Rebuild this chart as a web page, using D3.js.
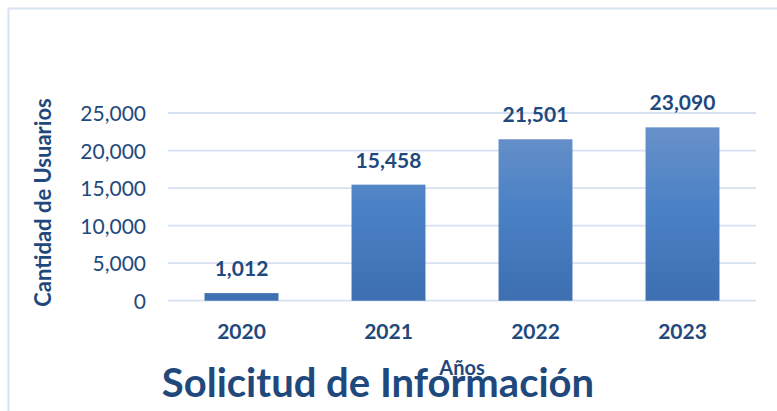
<!DOCTYPE html>
<html><head><meta charset="utf-8">
<script src="https://cdn.jsdelivr.net/npm/d3@7"></script>
<style>body{margin:0;background:#fff}svg{display:block}</style>
</head><body>
<script>
const categories = ["2020","2021","2022","2023"];
const values = [1012, 15458, 21501, 23090];
const yTicks = [0,5000,10000,15000,20000,25000];
const title = "Solicitud de Información";
const xTitle = "Años";
const yTitle = "Cantidad de Usuarios";

(function(){
const W = 777, H = 411;
const textColor = "#1f497d";
const FONT = "Lato";
const svg = d3.select("body").append("svg").attr("width", W).attr("height", H);

const defs = svg.append("defs");
const g = defs.append("linearGradient").attr("id","barGrad").attr("gradientUnits","userSpaceOnUse");
// border
svg.append("path").attr("d", `M8.5,${H} V8.5 H${W}`).attr("fill","none").attr("stroke","#d9e4f3").attr("stroke-width",2);

const pLeft = 168, pRight = 756, pTop = 113, pBottom = 300.7;
const x = d3.scaleBand().domain(categories).range([pLeft, pRight]).paddingInner(0.497).paddingOuter(0.2485);
const y = d3.scaleLinear().domain([0, 25000]).range([pBottom, pTop]);

g.attr("x1",0).attr("x2",0).attr("y1", y(25000)).attr("y2", y(0));
g.append("stop").attr("offset","0%").attr("stop-color","#6d93c9");
g.append("stop").attr("offset","50%").attr("stop-color","#4b82c6");
g.append("stop").attr("offset","100%").attr("stop-color","#3d6fb1");

// gridlines
svg.append("g").selectAll("line").data(yTicks).join("line")
  .attr("x1", pLeft).attr("x2", pRight).attr("y1", d=>y(d)).attr("y2", d=>y(d))
  .attr("stroke","#d6e1f1").attr("stroke-width",1.8);

// y axis labels
const yAxis = d3.axisLeft(y).tickValues(yTicks).tickFormat(d3.format(",")).tickSize(0).tickPadding(0);
const ya = svg.append("g").attr("transform", `translate(146,0)`).call(yAxis);
ya.select(".domain").remove();
ya.selectAll("text").attr("font-family",FONT).attr("font-size",21).attr("fill",textColor).attr("dy","0.36em");

// bars
svg.append("g").selectAll("rect").data(values).join("rect")
  .attr("x", (d,i)=>x(categories[i])).attr("width", x.bandwidth())
  .attr("y", d=>y(d)).attr("height", d=>y(0)-y(d)).attr("fill","url(#barGrad)");

// data labels
svg.append("g").selectAll("text").data(values).join("text")
  .attr("x",(d,i)=>x(categories[i])+x.bandwidth()/2).attr("y", d=>y(d)-17)
  .attr("text-anchor","middle").attr("font-family",FONT).attr("font-weight","bold")
  .attr("font-size",21).attr("fill",textColor).text(d3.format(","));

// x axis labels
const xAxis = d3.axisBottom(x).tickSize(0).tickPadding(0);
const xa = svg.append("g").attr("transform", `translate(0,339)`).call(xAxis);
xa.select(".domain").remove();
xa.selectAll("text").attr("font-family",FONT).attr("font-weight","bold").attr("font-size",21)
  .attr("fill",textColor).attr("dy",0).attr("y",0);

// title (drawn first so axis title sits over it)
svg.append("text").attr("x",378).attr("y",397).attr("text-anchor","middle")
  .attr("font-family",FONT).attr("font-weight","bold").attr("font-size",40).attr("fill",textColor).text(title);

// axis titles
svg.append("text").attr("x",(pLeft+pRight)/2).attr("y",375).attr("text-anchor","middle")
  .attr("font-family",FONT).attr("font-weight","bold").attr("font-size",20).attr("fill",textColor).text(xTitle);
svg.append("text").attr("transform","translate(51,202.5) rotate(-90)").attr("text-anchor","middle")
  .attr("font-family",FONT).attr("font-weight","bold").attr("font-size",22).attr("fill",textColor).text(yTitle);
})();
</script>
</body></html>
